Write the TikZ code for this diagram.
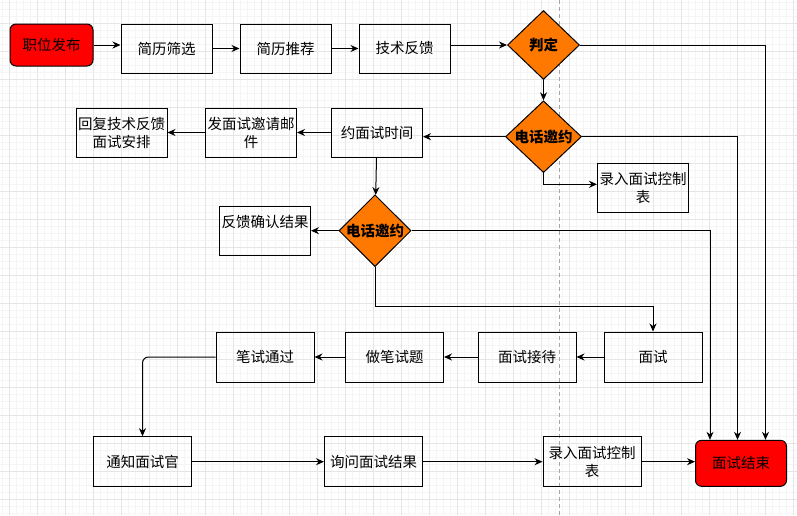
\documentclass[tikz,border=0pt]{standalone}
\usepackage{fontspec}
\newfontfamily\cjk{Noto Sans CJK SC}
\usetikzlibrary{arrows.meta,shapes.geometric}

\begin{document}
\begin{tikzpicture}[
  x=1pt, y=-1pt,
  box/.style={draw, line width=1pt, rectangle, minimum width=91, minimum height=49,
    inner sep=1pt, align=center, font=\cjk\fontsize{14.5}{18}\selectfont},
  wbox/.style={box, minimum width=98, minimum height=50},
  endbox/.style={box, fill=red, rounded corners=6},
  diam/.style={draw, line width=1pt, diamond, fill=orange!95!red, inner sep=0pt, aspect=1,
    minimum width=72, minimum height=69, font=\cjk\bfseries\fontsize{14.5}{18}\selectfont},
  minor/.style={gray!8, line width=0.5pt},
  major/.style={gray!20, line width=0.6pt},
  >={Stealth[length=8pt,width=7pt]}, line width=1pt, color=black
]
\useasboundingbox (0,0) rectangle (797,515);
\fill[white] (0,0) rectangle (797,515);
\foreach \gx in {2.3,9.3,...,797} \draw[minor] (\gx,0) -- (\gx,515);
\foreach \gy in {2.3,9.3,...,515} \draw[minor] (0,\gy) -- (797,\gy);
\foreach \gx in {9.3,37.3,...,797} \draw[major] (\gx,0) -- (\gx,515);
\foreach \gy in {23.3,51.3,...,515} \draw[major] (0,\gy) -- (797,\gy);
\draw[gray!70, line width=0.6pt, dash pattern=on 4pt off 3pt] (559.5,0) -- (559.5,515);

\node[endbox, minimum width=83, minimum height=42] (zw) at (51.5,45) {职位发布};
\node[box] (sx) at (166.5,48.5) {简历筛选};
\node[box] (tj) at (285.5,48.5) {简历推荐};
\node[box] (fk) at (404.5,48.5) {技术反馈};
\node[diam] (pd) at (543.5,45) {判定};
\node[diam, minimum width=76, minimum height=70] (dh1) at (543.5,136.7) {电话邀约};
\node[box] (ys) at (377,132.5) {约面试时间};
\node[box] (yj) at (251,132.5) {发面试邀请邮\\件};
\node[box] (hf) at (121.5,132.5) {回复技术反馈\\面试安排};
\node[box] (lr1) at (643,188.3) {录入面试控制\\表};
\node[box] (qr) at (265,230.7) {反馈确认结果\\\mbox{}};
\node[diam] (dh2) at (375,230.7) {电话邀约};
\node[wbox] (ms) at (653,357) {面试};
\node[wbox] (jd) at (527,357) {面试接待};
\node[wbox] (bs) at (394.5,357) {做笔试题};
\node[wbox] (bt) at (265,357) {笔试通过};
\node[wbox] (tz) at (142.5,461.7) {通知面试官};
\node[wbox] (xw) at (373.5,461.7) {询问面试结果};
\node[wbox] (lr2) at (592,461.7) {录入面试控制\\表};
\node[endbox, minimum width=91, minimum height=46] (js) at (741,463.3) {面试结束};

\draw[->] (zw.east) -- (zw.east -| sx.west);
\draw[->] (sx) -- (tj);
\draw[->] (tj) -- (fk);
\draw[->] (pd.west -| fk.east) -- (pd.west);
\draw[->] (pd) -- (dh1);
\draw[->] (pd.east) -| ([xshift=24.5]js.north);
\draw[->] (dh1.west) -- (dh1.west -| ys.east);
\draw[->] (dh1.east) -| ([xshift=-3.5]js.north);
\draw[->] (dh1.south) |- ([yshift=4]lr1.west);
\draw[->] (ys) -- (yj);
\draw[->] (yj) -- (hf);
\draw[->] (ys) -- (dh2);
\draw[->] (dh2) -- (qr);
\draw[->] (dh2.east) -| ([xshift=-31]js.north);
\draw[->] (dh2.south) -- ++(0,39) -| (ms.north);
\draw[->] (ms) -- (jd);
\draw[->] (jd) -- (bs);
\draw[->] (bs) -- (bt);
\draw[->, rounded corners=6] (bt.west) -| (tz.north);
\draw[->] (tz) -- (xw);
\draw[->] (xw) -- (lr2);
\draw[->] (lr2.east) -- (lr2.east -| js.west);
\end{tikzpicture}
\end{document}
